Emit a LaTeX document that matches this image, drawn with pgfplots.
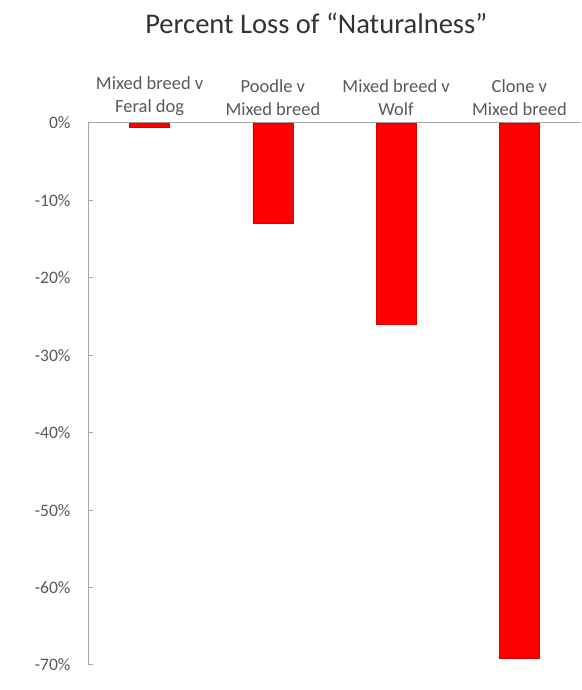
\documentclass[border=0pt]{standalone}
\usepackage{pgfplots}
\pgfplotsset{compat=1.18}
\usepackage{fontspec}
\setmainfont{Carlito}
\usetikzlibrary{calc}
\definecolor{axgray}{HTML}{A6A6A6}
\definecolor{txtgray}{HTML}{595959}
\begin{document}
\begin{tikzpicture}
\begin{axis}[
  name=ax,
  scale only axis,
  width=493pt, height=542pt,
  xmin=-0.5, xmax=3.5,
  ymin=-70, ymax=0,
  axis x line=top,
  axis y line=left,
  axis line style={axgray, line width=1pt, -},
  xtick={0,1,2,3},
  xticklabels={{Mixed breed v\\Feral dog},{Poodle v\\Mixed breed},{Mixed breed v\\Wolf},{Clone v\\Mixed breed}},
  xtick style={draw=none},
  xticklabel style={align=center, font=\fontsize{18.5}{23}\selectfont, text=txtgray, yshift=-1pt},
  ytick={-70,-60,-50,-40,-30,-20,-10,0},
  yticklabels={-70\%,-60\%,-50\%,-40\%,-30\%,-20\%,-10\%,0\%},
  yticklabel style={font=\fontsize{17.5}{20}\selectfont, text=txtgray, anchor=east, xshift=-14pt},
  ytick style={axgray, line width=1pt},
  tick align=inside,
  major tick length=5pt,
  ybar,
  bar width=40pt,
  clip=false,
]
\addplot[fill=red, draw=red!85!black, line width=0.6pt] coordinates {(0,-0.5) (1,-13) (2,-26) (3,-69.1)};
\node[font=\fontsize{28.5}{31}\selectfont, text=black!80] at (rel axis cs:0.463,1.183) {Percent Loss of “Naturalness”};
\end{axis}
\pgfresetboundingbox
\path ($(ax.south west)+(-88pt,-25pt)$) rectangle ++(581pt,690pt);
\end{tikzpicture}
\end{document}
